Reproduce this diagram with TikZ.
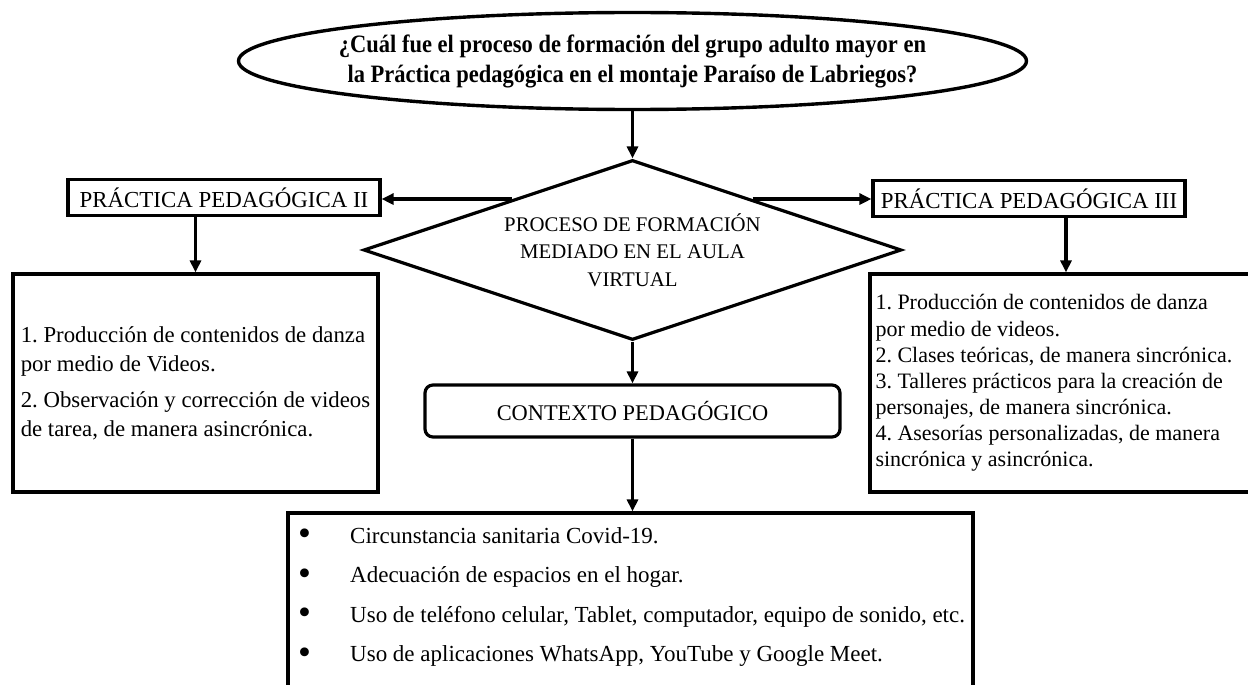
\documentclass[tikz,border=0pt]{standalone}
\usepackage{fontspec}
\setmainfont{Liberation Serif}
\newfontfamily\pregfont{Liberation Serif}[FakeStretch=0.9]
\usetikzlibrary{arrows.meta,shapes.geometric,positioning}

\newcommand{\vineta}{\makebox[52pt][l]{\raisebox{-2.5pt}{\scalebox{1.6}{\textbullet}}}}

\tikzset{
  caja/.style={draw, line width=3.2pt, inner sep=0pt},
  titulo/.style={caja, minimum height=36pt, font=\fontsize{22.9}{27}\selectfont},
  flecha/.style={line width=3.2pt, -{Triangle[length=12pt,width=11pt]}},
}

\begin{document}
\begin{tikzpicture}[x=1pt,y=-1pt]
    \useasboundingbox (0,0) rectangle (1248,685);
    \frenchspacing

    \node[ellipse, draw, line width=3.4pt, minimum width=788pt, minimum height=97pt, inner sep=0pt] (PREG) at (632.5,61) {};
    \node[align=center, inner sep=0pt, font=\pregfont\bfseries\fontsize{25}{30}\selectfont] (PREGTXT) at (PREG.center) {¿Cuál fue el proceso de formación del grupo adulto mayor en\\la Práctica pedagógica en el montaje Paraíso de Labriegos?};

    \node[diamond, draw, line width=3.2pt, aspect=2.99, minimum width=538pt, minimum height=180pt, inner sep=0pt, align=center, font=\fontsize{20.8}{27.5}\selectfont] (PF) at (632.5,250) {PROCESO DE FORMACIÓN\\MEDIADO EN EL AULA\\VIRTUAL};

    \node[titulo, minimum width=312pt] (PPII) at (224,197.5) {PRÁCTICA PEDAGÓGICA II};
    \node[titulo, minimum width=312pt] (PPIII) at (1029,198.5) {PRÁCTICA PEDAGÓGICA III};

    \node[caja, minimum width=365pt, minimum height=218pt, align=flush left, font=\fontsize{22.8}{29}\selectfont] (ACT2) at (195.5,383) {1. Producción de contenidos de danza\\por medio de Videos.\\[7pt]2. Observación y corrección de videos\\de tarea, de manera asincrónica.};

    \node[caja, minimum width=392pt, minimum height=218pt, text width=381pt, inner xsep=5.5pt, align=flush left, font=\fontsize{22}{26.1}\selectfont] (ACT3) at (1066,383) {1. Producción de contenidos de danza\\por medio de videos.\\2. Clases teóricas, de manera sincrónica.\\3. Talleres prácticos para la creación de\\personajes, de manera sincrónica.\\4. Asesorías personalizadas, de manera\\sincrónica y asincrónica.};

    \node[caja, rounded corners=8pt, minimum width=415pt, minimum height=52pt, font=\fontsize{22.4}{27}\selectfont] (CP) at (632.5,411) {CONTEXTO PEDAGÓGICO};

    \node[caja, minimum width=685pt, minimum height=207pt] (CTX) at (630.5,616.5) {};
    \node[anchor=west, inner sep=0pt, align=flush left, font=\fontsize{23}{39.5}\selectfont] (LISTA) at (298,597) {\vineta Circunstancia sanitaria Covid-19.\\\vineta Adecuación de espacios en el hogar.\\\vineta Uso de teléfono celular, Tablet, computador, equipo de sonido, etc.\\\vineta Uso de aplicaciones WhatsApp, YouTube y Google Meet.};

    \path[flecha] (PREG.south) edge (PF.north)
    (PF.157) edge (PF.157 -| PPII.east)
    (PF.23) edge (PF.23 -| PPIII.west)
    (PPII.south -| ACT2.north) edge (ACT2.north)
    (PPIII.south -| ACT3.north) edge (ACT3.north)
    (PF.south) edge (CP.north)
    (CP.south) edge (CP.south |- CTX.north);
\end{tikzpicture}
\end{document}
